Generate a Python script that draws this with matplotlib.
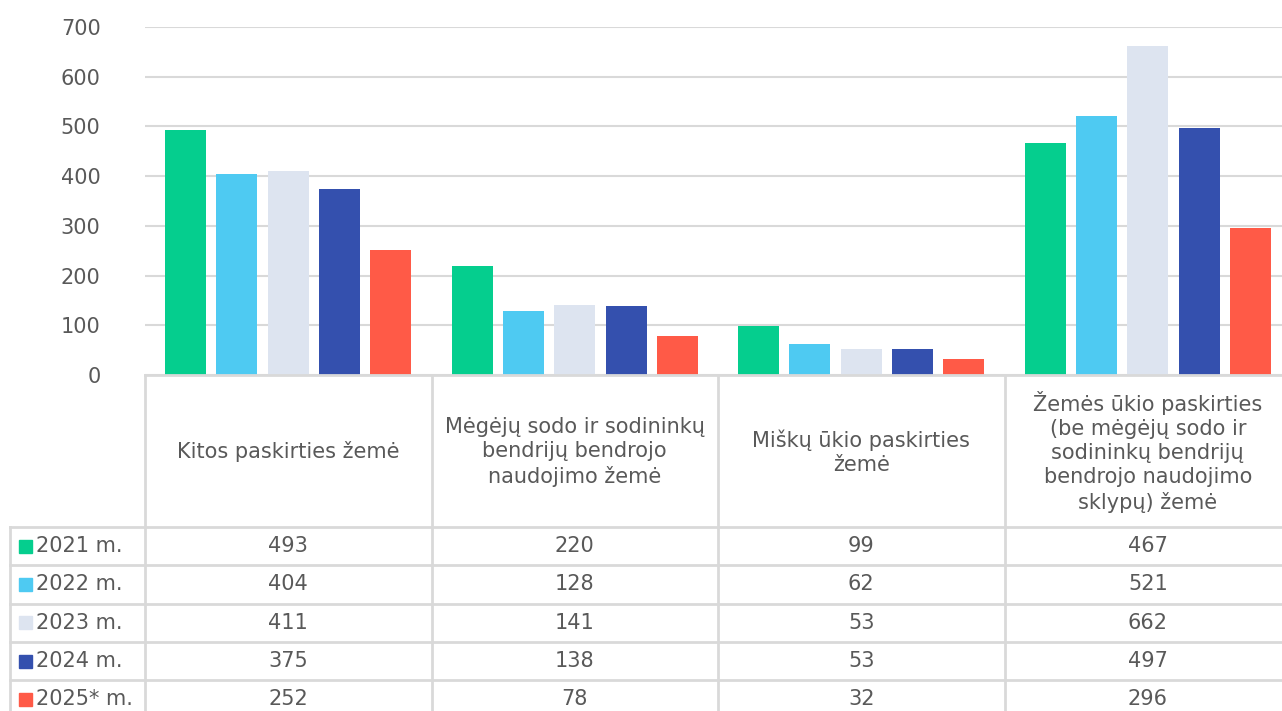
import matplotlib.pyplot as plt
from matplotlib.lines import Line2D
from matplotlib.patches import Rectangle
import numpy as np

categories = [
    'Kitos paskirties žemė',
    'Mėgėjų sodo ir sodininkų\nbendrijų bendrojo\nnaudojimo žemė',
    'Miškų ūkio paskirties\nžemė',
    'Žemės ūkio paskirties\n(be mėgėjų sodo ir\nsodininkų bendrijų\nbendrojo naudojimo\nsklypų) žemė',
]
series_names = ['2021 m.', '2022 m.', '2023 m.', '2024 m.', '2025* m.']
v2021 = [493, 220, 99, 467]
v2022 = [404, 128, 62, 521]
v2023 = [411, 141, 53, 662]
v2024 = [375, 138, 53, 497]
v2025 = [252, 78, 32, 296]
series_values = [v2021, v2022, v2023, v2024, v2025]
colors = ['#05CE8E', '#4ECAF2', '#DDE4F0', '#3450AE', '#FF5A47']
yticks = [0, 100, 200, 300, 400, 500, 600, 700]

TEXT = '#595959'
GRID = '#D9D9D9'
FS = 15

W, H = 1282, 711
fig = plt.figure(figsize=(W / 100, H / 100), dpi=100)

# bar area in pixel terms (runs past the right edge, like the cropped original)
left, right, top, base = 145, 1291, 27, 375
ax = fig.add_axes([left / W, (H - base) / H, (right - left) / W, (base - top) / H])

x = np.arange(len(categories))
bw = 0.143
step = 0.179
for i, (vals, c) in enumerate(zip(series_values, colors)):
    ax.bar(x + (i - 2) * step, vals, width=bw, color=c, zorder=3)

ax.set_xlim(-0.5, len(categories) - 0.5)
ax.set_ylim(0, 700)
ax.set_yticks(yticks)
ax.set_yticklabels([str(t) for t in yticks], fontsize=FS, color=TEXT)
ax.tick_params(axis='y', length=0, pad=32)
ax.set_xticks([])
ax.grid(axis='y', color=GRID, linewidth=1.5, zorder=0)
for s in ax.spines.values():
    s.set_visible(False)

# data table below, drawn on an overlay axes in pixel coordinates
tab = fig.add_axes([0, 0, 1, 1], zorder=5)
tab.set_xlim(0, W)
tab.set_ylim(H, 0)
tab.axis('off')

col_w = (right - left) / len(categories)
col_x = [left + col_w * k for k in range(len(categories) + 1)]
header_bottom = 527
row_h = 38.3
row_y = [header_bottom + row_h * k for k in range(len(series_names) + 1)]
bottom = row_y[-1]
lw = 2

# horizontal lines
tab.add_line(Line2D([left, W + 20], [base, base], color=GRID, lw=lw))
for y in row_y:
    tab.add_line(Line2D([10, W + 20], [y, y], color=GRID, lw=lw))
# vertical lines
for cx in col_x:
    tab.add_line(Line2D([cx, cx], [base, bottom], color=GRID, lw=lw))
tab.add_line(Line2D([10, 10], [header_bottom, bottom], color=GRID, lw=lw))

# header texts
for k, cat in enumerate(categories):
    tab.text((col_x[k] + col_x[k + 1]) / 2, (base + header_bottom) / 2 + 1, cat,
             ha='center', va='center', fontsize=FS, color=TEXT, linespacing=1.25)

# rows
for r, (name, vals, c) in enumerate(zip(series_names, series_values, colors)):
    cy = (row_y[r] + row_y[r + 1]) / 2
    tab.add_patch(Rectangle((18.5, cy - 6.5), 13, 13, color=c))
    tab.text(36, cy, name, ha='left', va='center', fontsize=FS, color=TEXT)
    for k, v in enumerate(vals):
        tab.text((col_x[k] + col_x[k + 1]) / 2, cy, str(v),
                 ha='center', va='center', fontsize=FS, color=TEXT)

fig.savefig('out.png', dpi=100)
